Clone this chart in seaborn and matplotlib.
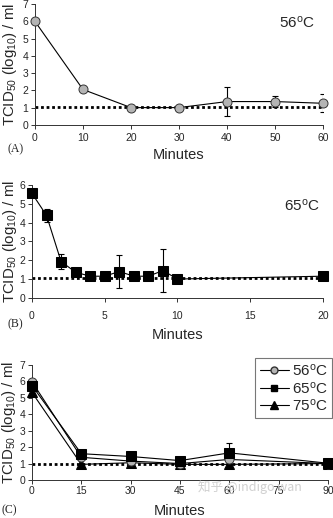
import numpy as np
import pandas as pd
import matplotlib
matplotlib.use("Agg")
import matplotlib.pyplot as plt
import seaborn as sns
from matplotlib.lines import Line2D

sns.set_style("ticks")
plt.rcParams['font.family'] = ['Liberation Sans', 'DejaVu Sans']
plt.rcParams['mathtext.default'] = 'regular'

# Panel A: 56 C
a_min = [0, 10, 20, 30, 40, 50, 60]
a_val = [6.0, 2.05, 1.0, 1.0, 1.35, 1.35, 1.25]
a_err = [0.0, 0.0, 0.1, 0.05, 0.85, 0.33, 0.52]
a_ticks = [0, 10, 20, 30, 40, 50, 60]

# Panel B: 65 C
b_min = [0, 1, 2, 3, 4, 5, 6, 7, 8, 9, 10, 20]
b_val = [5.55, 4.38, 1.93, 1.36, 1.15, 1.15, 1.4, 1.15, 1.15, 1.45, 1.0, 1.15]
b_err = [0.0, 0.35, 0.38, 0.1, 0.1, 0.1, 0.86, 0.1, 0.1, 1.12, 0.05, 0.1]
b_ticks = [0, 5, 10, 15, 20]

# Panel C: 56, 65, 75 C
c_min = [0, 15, 30, 45, 60, 90]
c56 = [5.98, 1.38, 1.15, 1.0, 1.25, 1.0]
c65 = [5.75, 1.6, 1.43, 1.18, 1.65, 1.02]
c65_err = [0.1, 0.1, 0.15, 0.05, 0.6, 0.05]
c75 = [5.33, 0.95, 1.05, 0.95, 0.95, 1.0]
c_ticks = [0, 15, 30, 45, 60, 75, 90]

ylabel = 'TCID$_{50}$ (log$_{10}$) / ml'
grey = '#b4b4b4'

fig = plt.figure(figsize=(3.33, 5.18), dpi=100)
axA = fig.add_axes([0.105, 0.759, 0.865, 0.233])
axB = fig.add_axes([0.096, 0.425, 0.874, 0.218])
axC = fig.add_axes([0.096, 0.0734, 0.889, 0.222])


def style(ax, ymax, xt, xmax, xpad, xlab_y, ylab_x):
    ax.set_ylim(0, ymax)
    ax.set_xlim(0, xmax)
    ax.set_yticks(range(0, ymax + 1))
    ax.set_xticks(xt)
    for s in ['top', 'right']:
        ax.spines[s].set_visible(False)
    for s in ['left', 'bottom']:
        ax.spines[s].set_linewidth(0.7)
        ax.spines[s].set_color('#333333')
    ax.tick_params(axis='both', labelsize=7.5, length=3, width=0.7, color='#333333', pad=2)
    ax.tick_params(axis='x', pad=xpad)
    ax.set_ylabel(ylabel, fontsize=10.8)
    ax.set_xlabel('Minutes', fontsize=10.5)
    ax.xaxis.label.set_va('center')
    ax.yaxis.label.set_va('center')
    ax.xaxis.set_label_coords(0.5, xlab_y)
    ax.yaxis.set_label_coords(ylab_x, 0.5)
    for lab in ax.get_xticklabels() + ax.get_yticklabels():
        lab.set_clip_on(False)


# Panel A
dfA = pd.DataFrame({'Minutes': a_min, 'val': a_val})
axA.errorbar(a_min, a_val, yerr=a_err, fmt='none', ecolor='black', elinewidth=0.8, capsize=2.5, capthick=0.8, zorder=2)
axA.axhline(1.05, color='black', lw=2, ls=(0, (1, 1)), zorder=1)
sns.lineplot(data=dfA, x='Minutes', y='val', ax=axA, color='black', lw=0.8, marker='o',
             markersize=6.5, markerfacecolor=grey, markeredgecolor='#333333', markeredgewidth=0.7, zorder=3, clip_on=False)
style(axA, 7, a_ticks, 60, 3, -0.248, -0.087)
axA.text(0.97, 0.85, '56$^{o}$C', transform=axA.transAxes, ha='right', va='center', fontsize=11)

# Panel B
dfB = pd.DataFrame({'Minutes': b_min, 'val': b_val})
axB.errorbar(b_min, b_val, yerr=b_err, fmt='none', ecolor='black', elinewidth=0.8, capsize=2.5, capthick=0.8, zorder=2)
axB.axhline(1.05, color='black', lw=2, ls=(0, (1, 1)), zorder=1)
sns.lineplot(data=dfB, x='Minutes', y='val', ax=axB, color='black', lw=0.8, marker='s',
             markersize=7, markerfacecolor='black', markeredgecolor='black', zorder=3, clip_on=False)
style(axB, 6, b_ticks, 20, 6.5, -0.327, -0.075)
axB.text(0.99, 0.82, '65$^{o}$C', transform=axB.transAxes, ha='right', va='center', fontsize=11)

# Panel C
axC.axhline(1.0, color='black', lw=2, ls=(0, (1, 1)), zorder=1)
axC.errorbar(c_min, c65, yerr=c65_err, fmt='none', ecolor='black', elinewidth=0.8, capsize=2.5, capthick=0.8, zorder=2)
dfC = pd.DataFrame({'Minutes': c_min * 3, 'val': c56 + c65 + c75,
                    'T': ['56'] * len(c_min) + ['65'] * len(c_min) + ['75'] * len(c_min)})
sns.lineplot(data=dfC[dfC['T'] == '75'], x='Minutes', y='val', ax=axC, color='black', lw=0.8, marker='^',
             markersize=7.5, markerfacecolor='black', markeredgecolor='black', zorder=3, clip_on=False)
sns.lineplot(data=dfC[dfC['T'] == '56'], x='Minutes', y='val', ax=axC, color='black', lw=0.8, marker='o',
             markersize=6.5, markerfacecolor=grey, markeredgecolor='#333333', markeredgewidth=0.7, zorder=4, clip_on=False)
sns.lineplot(data=dfC[dfC['T'] == '65'], x='Minutes', y='val', ax=axC, color='black', lw=0.8, marker='s',
             markersize=7, markerfacecolor='black', markeredgecolor='black', zorder=5, clip_on=False)
style(axC, 7, c_ticks, 90, 1, -0.27, -0.077)
handles = [
    Line2D([], [], color='black', lw=0.8, marker='o', markersize=5, markerfacecolor=grey, markeredgecolor='#333333'),
    Line2D([], [], color='black', lw=0.8, marker='s', markersize=5, markerfacecolor='black'),
    Line2D([], [], color='black', lw=0.8, marker='^', markersize=5.5, markerfacecolor='black'),
]
leg = axC.legend(handles, ['56$^{o}$C', '65$^{o}$C', '75$^{o}$C'], loc='upper right',
                 bbox_to_anchor=(332 / 333, 1 - 358 / 518), bbox_transform=fig.transFigure,
                 fontsize=11, frameon=True, fancybox=False, handlelength=1.9, handletextpad=0.2,
                 borderpad=0.3, labelspacing=0.1, borderaxespad=0)
leg.get_frame().set_edgecolor('#555555')
leg.get_frame().set_linewidth(0.8)

# panel letters
fig.text(8 / 333, 1 - 149 / 518, '(A)', family='Liberation Serif', fontsize=8.5, va='center')
fig.text(8 / 333, 1 - 324 / 518, '(B)', family='Liberation Serif', fontsize=8.5, va='center')
fig.text(2 / 333, 1 - 510 / 518, '(C)', family='Liberation Serif', fontsize=8.5, va='center')

# watermark
fig.text(198 / 333, 1 - 487 / 518, '知乎 @indigo wan', family=['Noto Sans CJK SC', 'DejaVu Sans'],
         fontsize=9, color='#d0d0d0', va='center', ha='left')

fig.savefig('out.png', dpi=100)
